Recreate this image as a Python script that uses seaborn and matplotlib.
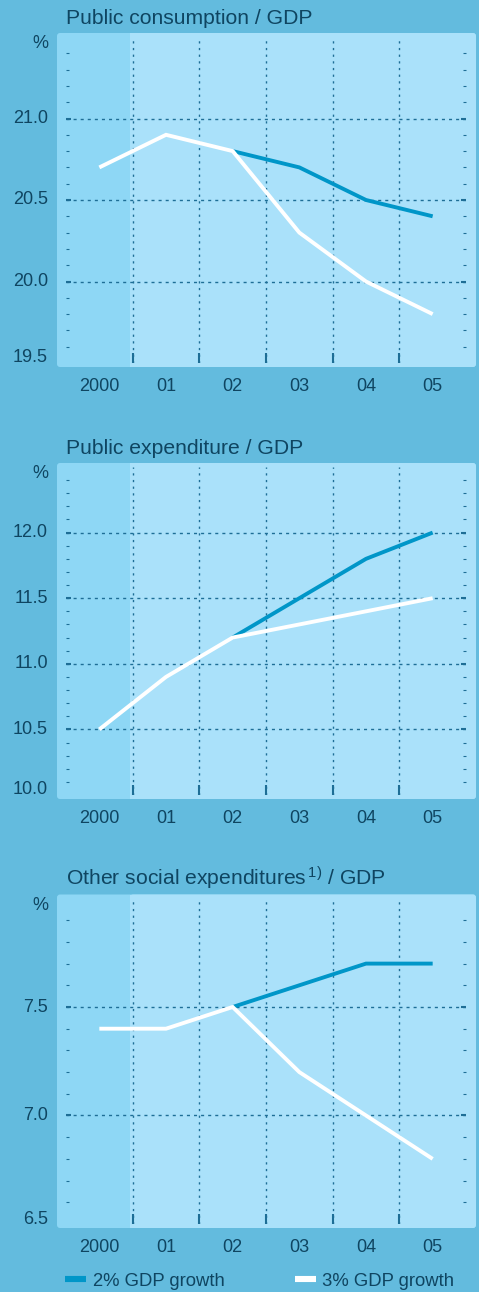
import numpy as np
import pandas as pd
import matplotlib
matplotlib.use("Agg")
import matplotlib.pyplot as plt
import matplotlib.transforms as mtransforms
from matplotlib.patches import FancyBboxPatch, Rectangle
from matplotlib.lines import Line2D
from matplotlib.ticker import FixedLocator, NullFormatter
import seaborn as sns

# ---------------- data ----------------
years = ["2000", "01", "02", "03", "04", "05"]
titles = ["Public consumption / GDP",
          "Public expenditure / GDP",
          "Other social expenditures$^{\\,1)}$ / GDP"]
series_names = ["2% GDP growth", "3% GDP growth"]

cons_2pct = [np.nan, np.nan, 20.8, 20.7, 20.5, 20.4]
cons_3pct = [20.7, 20.9, 20.8, 20.3, 20.0, 19.8]
exp_2pct = [np.nan, np.nan, 11.2, 11.5, 11.8, 12.0]
exp_3pct = [10.5, 10.9, 11.2, 11.3, 11.4, 11.5]
soc_2pct = [np.nan, np.nan, 7.5, 7.6, 7.7, 7.7]
soc_3pct = [7.4, 7.4, 7.5, 7.2, 7.0, 6.8]

y_ranges = [(19.5, 21.5), (10.0, 12.5), (6.5, 8.0)]
y_labels = [["19.5", "20.0", "20.5", "21.0"],
            ["10.0", "10.5", "11.0", "11.5", "12.0"],
            ["6.5", "7.0", "7.5"]]

# ---------------- style ----------------
BG = "#63BBDE"
PANEL = "#AAE1FA"
SHADE = "#8ED7F5"
DARK = "#0096C8"
WHITE = "#FFFFFF"
TEXT = "#0F4561"
GRID = "#1E6E96"

sns.set_style("white")
plt.rcParams["font.family"] = ["Liberation Sans", "DejaVu Sans"]
plt.rcParams["mathtext.fontset"] = "custom"
plt.rcParams["mathtext.rm"] = "Liberation Sans"
plt.rcParams["mathtext.it"] = "Liberation Sans"
plt.rcParams["mathtext.bf"] = "Liberation Sans:bold"

W_PX, H_PX = 479, 1292
fig = plt.figure(figsize=(W_PX / 100, H_PX / 100), dpi=100, facecolor=BG)

# axes pixel extents (top, bottom) from top of image
ax_left_px, ax_right_px = 66, 466
panel_px = [(37, 363), (467, 795), (898.5, 1224)]
shade_end_px = 130

panels = [(cons_2pct, cons_3pct), (exp_2pct, exp_3pct), (soc_2pct, soc_3pct)]

ident = mtransforms.IdentityTransform()

for i, ((s2, s3), (top_px, bot_px)) in enumerate(zip(panels, panel_px)):
    ax = fig.add_axes([ax_left_px / W_PX, 1 - bot_px / H_PX,
                       (ax_right_px - ax_left_px) / W_PX, (bot_px - top_px) / H_PX])
    ax.set_facecolor("none")

    # background panel (pixel coordinates)
    bx0, bx1 = ax_left_px - 9, ax_right_px + 10
    by0, by1 = H_PX - (bot_px + 4), H_PX - (top_px - 4)
    fig.add_artist(FancyBboxPatch((bx0, by0), bx1 - bx0, by1 - by0,
                                  boxstyle="round,pad=0,rounding_size=3",
                                  transform=ident, facecolor=SHADE,
                                  edgecolor="none", zorder=-3))
    fig.add_artist(FancyBboxPatch((shade_end_px, by0), bx1 - shade_end_px, by1 - by0,
                                  boxstyle="round,pad=0,rounding_size=3",
                                  transform=ident, facecolor=PANEL,
                                  edgecolor="none", zorder=-2))
    fig.add_artist(Rectangle((shade_end_px, by0), 6, by1 - by0, transform=ident,
                             facecolor=PANEL, edgecolor="none", zorder=-2))

    # data
    df = pd.DataFrame({
        "pos": list(range(len(years))) * 2,
        "value": list(s2) + list(s3),
        "series": [series_names[0]] * len(years) + [series_names[1]] * len(years),
    }).dropna()
    sns.lineplot(data=df, x="pos", y="value", hue="series",
                 hue_order=series_names,
                 palette={series_names[0]: DARK, series_names[1]: WHITE},
                 linewidth=2.8, legend=False, errorbar=None, ax=ax,
                 solid_capstyle="butt", solid_joinstyle="miter")

    lo, hi = y_ranges[i]
    ax.set_xlim(-0.5, 5.5)
    ax.set_ylim(lo, hi)
    ax.set_xlabel("")
    ax.set_ylabel("")
    for s in ax.spines.values():
        s.set_visible(False)
    ax.set_axisbelow(True)

    # x axis
    ax.set_xticks(range(len(years)))
    ax.set_xticklabels(years)
    ax.xaxis.set_minor_locator(FixedLocator([k + 0.5 for k in range(len(years) - 1)]))
    ax.tick_params(axis="x", which="major", length=0, pad=11, labelsize=13,
                   labelcolor=TEXT)
    ax.tick_params(axis="x", which="minor", direction="in", length=7.2, width=1.5,
                   color=GRID, bottom=True, top=False)
    ax.grid(which="minor", axis="x", color=GRID, linewidth=1.0,
            linestyle=(0, (1.6, 3.2)))
    ax.grid(which="major", axis="x", visible=False)

    # y axis
    majors = [float(t) for t in y_labels[i]]
    interior = [v for v in majors if lo < v < hi]
    ax.yaxis.set_major_locator(FixedLocator(interior))
    ax.yaxis.set_major_formatter(NullFormatter())
    n_minor = int(round((hi - lo) / 0.1))
    minors = [round(lo + 0.1 * k, 1) for k in range(1, n_minor)]
    minors = [v for v in minors if all(abs(v - m) > 1e-6 for m in majors)]
    ax.yaxis.set_minor_locator(FixedLocator(minors))
    ax.yaxis.set_minor_formatter(NullFormatter())
    ax.tick_params(axis="y", which="major", direction="in", length=3.8, width=1.5,
                   color=GRID, left=True, right=True)
    ax.tick_params(axis="y", which="minor", direction="in", length=2.3, width=0.8,
                   color=GRID, left=True, right=True)
    ax.grid(which="major", axis="y", color=GRID, linewidth=1.0,
            linestyle=(0, (2.2, 2.9)))

    for lbl, v in zip(y_labels[i], majors):
        dy = 5 if abs(v - lo) < 1e-6 else 0
        ax.annotate(lbl, xy=(0, v), xycoords=("axes fraction", "data"),
                    xytext=(-18, dy), textcoords="offset pixels",
                    ha="right", va="center", fontsize=13, color=TEXT,
                    annotation_clip=False)
    ax.annotate("%", xy=(0, 1), xycoords="axes fraction", xytext=(-18, -7),
                textcoords="offset pixels", ha="right", va="center",
                fontsize=13, color=TEXT, annotation_clip=False)
    ax.annotate(titles[i], xy=(0, 1), xycoords="axes fraction", xytext=(0, 12.5),
                textcoords="offset pixels", ha="left", va="baseline",
                fontsize=15.2, color=TEXT, annotation_clip=False)

handles = [Line2D([], [], color=DARK, lw=4.4, solid_capstyle="butt"),
           Line2D([], [], color=WHITE, lw=4.4, solid_capstyle="butt")]
fig.legend(handles=handles, labels=series_names, loc="center left",
           bbox_to_anchor=(65 / W_PX, 1 - 1281 / H_PX), ncol=2, frameon=False,
           fontsize=13.3, labelcolor=TEXT, handlelength=1.15, handletextpad=0.35,
           columnspacing=3.8, borderpad=0, borderaxespad=0)

fig.savefig("out.png", dpi=100, facecolor=BG)
